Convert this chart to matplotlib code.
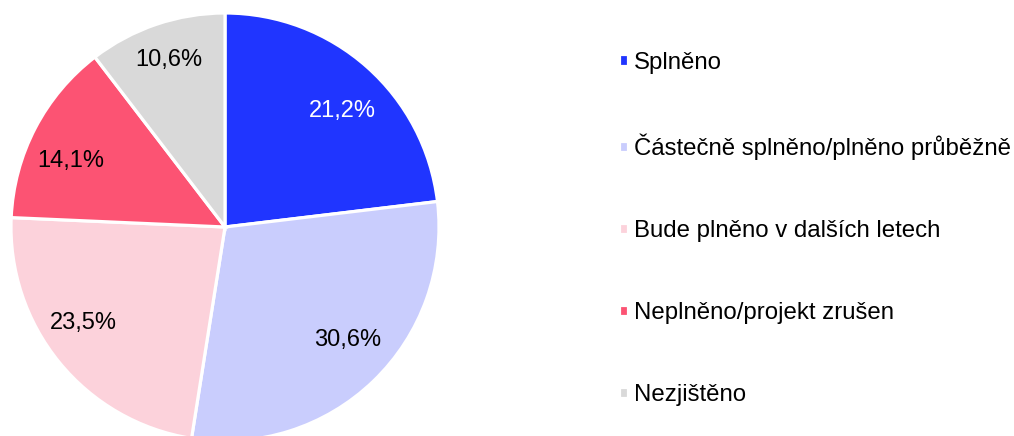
import matplotlib
matplotlib.use("Agg")
import matplotlib.pyplot as plt
import numpy as np

plt.rcParams['font.family'] = ['Liberation Sans', 'DejaVu Sans']

categories = ["Splněno", "Částečně splněno/plněno průběžně", "Bude plněno v dalších letech",
              "Neplněno/projekt zrušen", "Nezjištěno"]
# wedge shares as drawn in the reference (angles)
shares = [23.1, 29.4, 23.2, 13.9, 10.4]
# percentage labels as printed in the reference
label_texts = ["21,2%", "30,6%", "23,5%", "14,1%", "10,6%"]

colors = ["#2035FF", "#C9CDFD", "#FCD2DB", "#FC5373", "#D9D9D9"]
label_colors = ["white", "black", "black", "black", "black"]
# label placement (angle from top clockwise in degrees, radius fraction)
label_pos = [(45.2, 0.77), (132.6, 0.78), (235.9, 0.80), (293.0, 0.785), (341.3, 0.825)]

W, H = 1014, 436
fig = plt.figure(figsize=(W / 100, H / 100), dpi=100)
cx, cy, R = 225, 209, 214
ax = fig.add_axes([(cx - R) / W, (cy - R) / H, 2 * R / W, 2 * R / H])
wedges, _ = ax.pie(shares, colors=colors, startangle=90, counterclock=False, radius=1,
                   wedgeprops=dict(edgecolor="white", linewidth=2.3))
ax.set_xlim(-1, 1)
ax.set_ylim(-1, 1)
ax.axis("off")

for txt, col, (ang, r) in zip(label_texts, label_colors, label_pos):
    a = np.deg2rad(ang)
    ax.text(r * np.sin(a), r * np.cos(a), txt, ha="center", va="center",
            fontsize=17, color=col)

fs = 17.3
fs_px = fs * 100 / 72
fig.legend(wedges, categories, loc="center left", bbox_to_anchor=(619 / W, 1 - 229 / H),
           frameon=False, fontsize=fs, borderpad=0, borderaxespad=0,
           handlelength=9 / fs_px, handleheight=8 / fs_px, handletextpad=6 / fs_px,
           labelspacing=2.5)

fig.savefig("out.png", dpi=100)
